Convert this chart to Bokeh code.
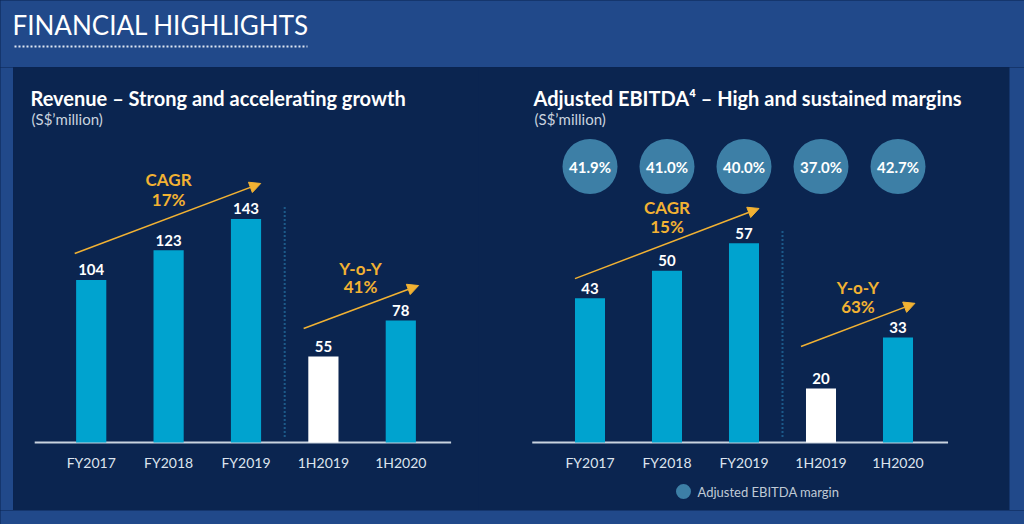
from bokeh.plotting import figure
from bokeh.models import FactorRange, Range1d, Arrow, NormalHead, GlobalInlineStyleSheet
from bokeh.layouts import row, column
from bokeh.core.properties import value
from bokeh.embed import file_html
from bokeh.resources import INLINE

# ---------------- data ----------------
periods = ["FY2017", "FY2018", "FY2019", "1H2019", "1H2020"]
revenue = [104, 123, 143, 55, 78]
ebitda = [43, 50, 57, 20, 33]
ebitda_margin = ["41.9%", "41.0%", "40.0%", "37.0%", "42.7%"]
revenue_growth = ["CAGR", "17%", "Y-o-Y", "41%"]
ebitda_growth = ["CAGR", "15%", "Y-o-Y", "63%"]
legend_label = "Adjusted EBITDA margin"

# ---------------- styles ----------------
bar_colors = ["#00a3cf", "#00a3cf", "#00a3cf", "#ffffff", "#00a3cf"]
OUTER = "#21498a"
PANEL = "#0b2550"
GOLD = "#f2b233"
CIRCLE = "#3d7fa6"
AXIS = "#c9d3df"
FONT = value("Lato")
PANEL_H = 443


def blank(w, h, color=OUTER):
    f = figure(width=w, height=h, toolbar_location=None, output_backend="svg",
               min_border=0, x_axis_type=None, y_axis_type=None,
               outline_line_color=None, background_fill_color=color,
               border_fill_color=color)
    f.grid.visible = False
    return f


def px_to_factor(px, width, pad):
    """pixel offset inside a panel -> synthetic coordinate of its factor range"""
    step = width / (len(periods) + 2 * pad)
    return px / step - pad


def make_panel(width, pad, y_start, y_end, floor, title, title_x, values, growth,
               arrows, growth_y, sep_px, base_x):
    p = figure(width=width, height=PANEL_H,
               x_range=FactorRange(factors=periods, range_padding=pad,
                                   range_padding_units="absolute"),
               y_range=Range1d(y_start, y_end),
               x_axis_type=None, y_axis_type=None,
               output_backend="svg", toolbar_location=None, min_border=0,
               background_fill_color=PANEL, border_fill_color=PANEL,
               outline_line_color=None)
    p.grid.visible = False
    # pixel range for decorative texts (measured from the top)
    p.extra_y_ranges = {"px": Range1d(PANEL_H, 0)}
    tx = px_to_factor(title_x, width, pad)

    # titles
    p.text(x=[tx], y=[30.5], text=[title], y_range_name="px",
           text_baseline="middle", text_font=FONT, text_font_style="bold",
           text_font_size="20px", text_color="white")
    p.text(x=[px_to_factor(title_x + 1, width, pad)], y=[51.5], text=["(S$\u2019million)"],
           y_range_name="px", text_baseline="middle", text_font=FONT,
           text_font_size="15px", text_color=AXIS)

    # baseline (axis line)
    p.segment(x0=[base_x[0]], x1=[base_x[1]], y0=[floor], y1=[floor],
              line_color=AXIS, line_width=2)

    # bars + value labels
    p.vbar(x=periods, top=values, bottom=floor, width=0.39,
           fill_color=bar_colors, line_color=None)
    p.text(x=periods, y=values, text=[str(v) for v in values],
           text_align="center", text_baseline="middle", y_offset=-10,
           text_font=FONT, text_font_style="bold", text_font_size="15px",
           text_color="white")

    # category labels
    p.text(x=periods, y=[394.5] * len(periods), text=periods, y_range_name="px",
           text_align="center", text_baseline="middle", text_font=FONT,
           text_font_size="14px", text_color="#dde4ee")

    # separator between full years and half years
    n_fy = 3
    p.segment(x0=[n_fy], x1=[n_fy], y0=[sep_px[0]], y1=[sep_px[1]], y_range_name="px",
              line_color="#2f8fc4", line_width=2, line_dash="1 3")

    # growth arrows and labels
    for (x0, y0, x1, y1) in arrows:
        p.add_layout(Arrow(end=NormalHead(size=11, fill_color=GOLD, line_color=GOLD),
                           x_start=x0, y_start=y0, x_end=x1, y_end=y1,
                           line_color=GOLD, line_width=1.5))
    p.text(x=[1.5, 1.5, 3.98, 3.98], y=growth_y, text=growth, text_align="center",
           text_baseline="middle", text_font=FONT, text_font_style="bold",
           text_font_size="17px", text_color=GOLD)
    return p


LEFT_W, LEFT_PAD = 465, 0.504
RIGHT_W, RIGHT_PAD = 531, 0.948

left = make_panel(LEFT_W, LEFT_PAD, -43.5, 239.9, 0,
                  "Revenue \u2013 Strong and accelerating growth", 17, revenue,
                  revenue_growth,
                  arrows=[(0.287, 120.9, 2.69, 165.7), (3.245, 72.9, 4.73, 100.4)],
                  growth_y=[168.0, 155.2, 111.6, 99.8],
                  sep_px=(140, 372), base_x=(-0.23, 5.15))

right = make_panel(RIGHT_W, RIGHT_PAD, -11.15, 101.86, 6.2,
                   "Adjusted EBITDA\u2074 \u2013 High and sustained margins", 55, ebitda,
                   ebitda_growth,
                   arrows=[(0.305, 48.0, 2.695, 65.9), (3.24, 30.7, 4.72, 41.7)],
                   growth_y=[66.15, 61.2, 45.7, 41.0],
                   sep_px=(164, 372), base_x=(-0.25, 5.15))

# EBITDA margin circles
margin_row = [99] * len(periods)
right.scatter(x=periods, y=margin_row, y_range_name="px", size=55,
              fill_color=CIRCLE, line_color=None)
right.text(x=periods, y=margin_row, y_range_name="px", text=ebitda_margin,
           text_align="center", text_baseline="middle", text_font=FONT,
           text_font_style="bold", text_font_size="15px", text_color="white")
# legend
right.scatter(x=[px_to_factor(205, RIGHT_W, RIGHT_PAD)], y=[424], y_range_name="px",
              size=15, fill_color=CIRCLE, line_color=None)
right.text(x=[px_to_factor(219, RIGHT_W, RIGHT_PAD)], y=[424], y_range_name="px",
           text=[legend_label], text_baseline="middle", text_font=FONT,
           text_font_size="13px", text_color="#c0cad6")

# ---------------- header ----------------
h = figure(width=1024, height=67, x_range=Range1d(0, 1024), y_range=Range1d(67, 0),
           toolbar_location=None, output_backend="svg", min_border=0,
           background_fill_color=OUTER, border_fill_color=OUTER,
           outline_line_color=None, x_axis_type=None, y_axis_type=None)
h.grid.visible = False
h.text(x=[12], y=[24.5], text=["FINANCIAL HIGHLIGHTS"], text_font=FONT,
       text_font_size="26px", text_color="white", text_baseline="middle")
h.segment(x0=[14], y0=[46], x1=[307], y1=[46], line_color="#dfe7f2",
          line_width=2, line_dash="2 2")

middle = row(blank(13, PANEL_H), left, right, blank(15, PANEL_H))
page = column(h, middle, blank(1024, 14),
              stylesheets=[GlobalInlineStyleSheet(css="body { background-color: #0b2550; }")])

open("out.html", "w").write(file_html(page, INLINE))
